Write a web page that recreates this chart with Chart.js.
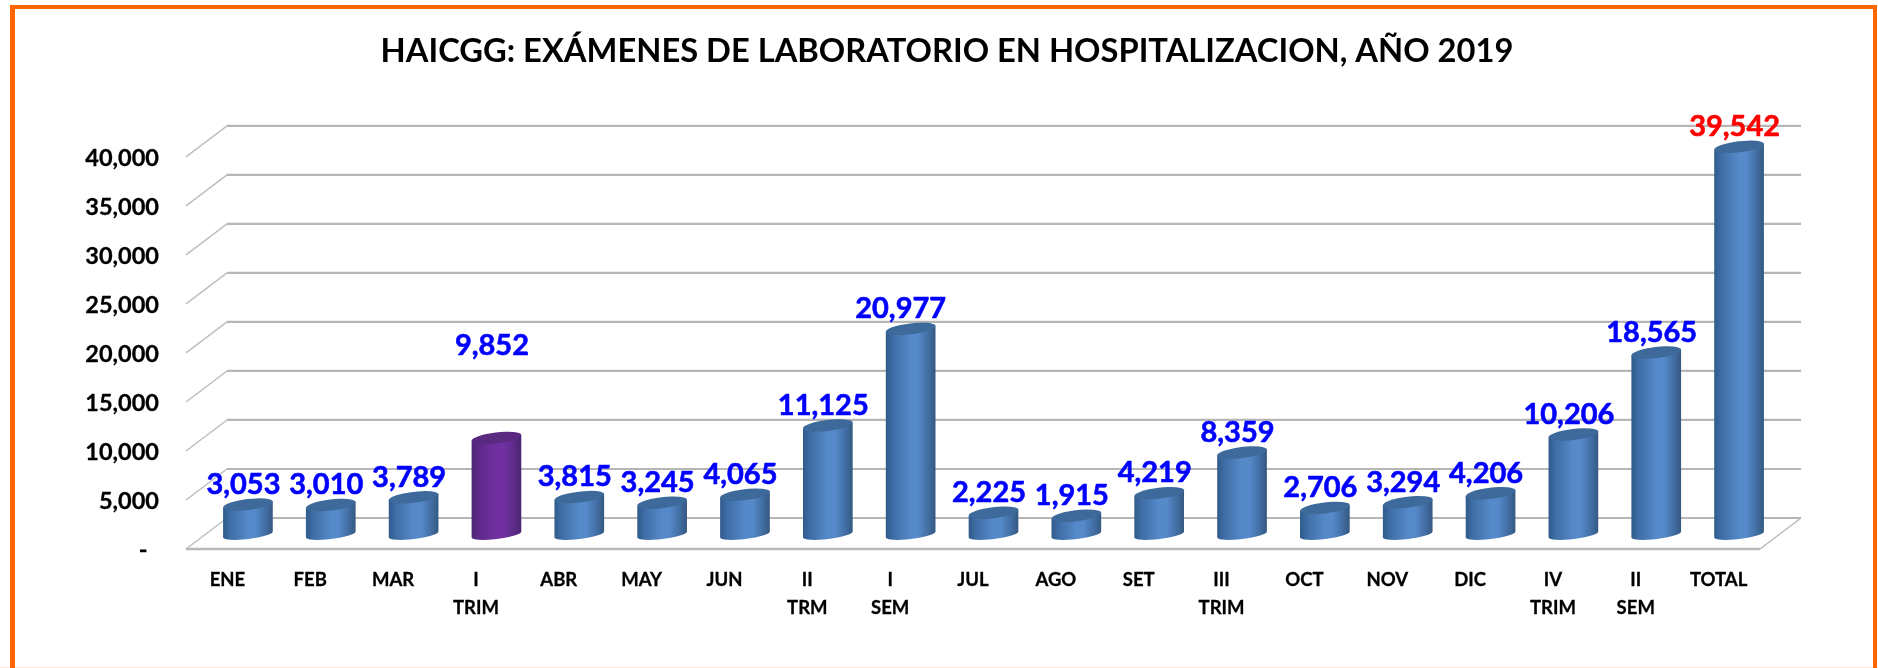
<!DOCTYPE html>
<html>
<head>
<meta charset="utf-8">
<title>HAICGG</title>
<script src="https://cdn.jsdelivr.net/npm/chart.js@4"></script>
<style>
    html, body { margin: 0; padding: 0; background: #fff; overflow: hidden; }
    canvas { display: block; }
</style>
</head>
<body>
<canvas id="plotCanvas" width="1878" height="668"></canvas>
<script>
var titleText = 'HAICGG: EXÁMENES DE LABORATORIO EN HOSPITALIZACION, AÑO 2019';
var categories = ['ENE', 'FEB', 'MAR', ['I', 'TRIM'], 'ABR', 'MAY', 'JUN', ['II', 'TRM'], ['I', 'SEM'],
    'JUL', 'AGO', 'SET', ['III', 'TRIM'], 'OCT', 'NOV', 'DIC', ['IV', 'TRIM'], ['II', 'SEM'], 'TOTAL'];
var examValues = [3053, 3010, 3789, 9852, 3815, 3245, 4065, 11125, 20977,
    2225, 1915, 4219, 8359, 2706, 3294, 4206, 10206, 18565, 39542];
var yTickLabels = ['-  ', '5,000', '10,000', '15,000', '20,000', '25,000', '30,000', '35,000', '40,000'];

// chart drawing constants
var fontName = 'Lato, "Open Sans", sans-serif';
var wallDX = 41, wallDY = -31;     // back wall offset from the front plane
var barDX = 20.5, barDY = -14.5;   // cylinders stand half way into the floor
var capTilt = -0.12, capRy = 5.5, footRy = 4.5;
var purpleIndex = 3, semIndex = 8, redIndex = 18;

var blueShades = { stops: ['#2f5a8a', '#3f6ea6', '#5589c9', '#5589c9', '#3f6a9e', '#34587f'], cap: '#3d6a9a' };
var purpleShades = { stops: ['#4f2677', '#5e2a8a', '#7030a0', '#7030a0', '#5a2a85', '#4a2470'], cap: '#5a2a80' };
var gradientStops = [0, 0.15, 0.5, 0.65, 0.88, 1];

function shadesFor(index) {
    return index === purpleIndex ? purpleShades : blueShades;
}

// orange frame round the picture
var framePlugin = {
    id: 'frame',
    beforeDraw: function (chart) {
        var ctx = chart.ctx;
        ctx.save();
        ctx.fillStyle = '#fff';
        ctx.fillRect(0, 0, chart.width, chart.height);
        ctx.fillStyle = '#fde6dc';
        ctx.fillRect(0, 667, 1878, 1);
        ctx.fillStyle = '#ff6600';
        ctx.fillRect(10, 5, 5, 663);
        ctx.fillRect(10, 5, 1867, 4);
        ctx.fillRect(1873, 5, 4, 663);
        ctx.restore();
    }
};

// floor, wall gridlines and the oblique side lines
var wallPlugin = {
    id: 'wall',
    beforeDatasetsDraw: function (chart) {
        var ctx = chart.ctx;
        var area = chart.chartArea;
        var yScale = chart.scales.y;
        ctx.save();
        yScale.ticks.forEach(function (tick) {
            var py = yScale.getPixelForValue(tick.value);
            ctx.strokeStyle = '#bdbdbd';
            ctx.lineWidth = 1.4;
            ctx.beginPath();
            ctx.moveTo(area.left, py);
            ctx.lineTo(area.left + wallDX, py + wallDY);
            ctx.stroke();
            ctx.strokeStyle = '#b6b6b6';
            ctx.lineWidth = 2.2;
            ctx.beginPath();
            ctx.moveTo(area.left + wallDX, py + wallDY);
            ctx.lineTo(area.right + wallDX, py + wallDY);
            ctx.stroke();
        });
        ctx.strokeStyle = '#b8b8b8';
        ctx.lineWidth = 2.6;
        ctx.beginPath();
        ctx.moveTo(area.left, area.bottom);
        ctx.lineTo(area.right, area.bottom);
        ctx.stroke();
        ctx.lineWidth = 1.4;
        ctx.beginPath();
        ctx.moveTo(area.right, area.bottom);
        ctx.lineTo(area.right + wallDX, area.bottom + wallDY);
        ctx.stroke();
        ctx.restore();
    }
};

// bars are painted as cylinders from the positions the bar controller worked out
var cylinderPlugin = {
    id: 'cylinder',
    beforeDatasetDraw: function (chart, args) {
        var ctx = chart.ctx;
        args.meta.data.forEach(function (bar, i) {
            var cx = bar.x + barDX;
            var top = bar.y + barDY;
            var bottom = bar.base + barDY;
            var rx = bar.width / 2;
            var shades = shadesFor(i);
            var dx = rx * Math.cos(capTilt);
            var dy = rx * Math.sin(capTilt);

            var grad = ctx.createLinearGradient(cx - rx, 0, cx + rx, 0);
            gradientStops.forEach(function (stop, s) {
                grad.addColorStop(stop, shades.stops[s]);
            });

            ctx.save();
            ctx.fillStyle = grad;
            ctx.beginPath();
            ctx.moveTo(cx - dx, top - dy);
            ctx.lineTo(cx - dx, bottom - dy);
            ctx.ellipse(cx, bottom, rx, footRy, capTilt, Math.PI, 0, true);
            ctx.lineTo(cx + dx, top + dy);
            ctx.closePath();
            ctx.fill();

            ctx.fillStyle = shades.cap;
            ctx.beginPath();
            ctx.ellipse(cx, top, rx, capRy, capTilt, 0, Math.PI * 2);
            ctx.fill();
            ctx.restore();
        });
        return false;
    }
};

// value labels above the cylinders, 9,852 sits far above its bar in the original
var valueLabelPlugin = {
    id: 'valueLabels',
    afterDatasetsDraw: function (chart) {
        var ctx = chart.ctx;
        var meta = chart.getDatasetMeta(0);
        ctx.save();
        ctx.font = 'bold 29px ' + fontName;
        ctx.textAlign = 'center';
        ctx.textBaseline = 'middle';
        ctx.lineWidth = 0.6;
        ctx.lineJoin = 'round';
        meta.data.forEach(function (bar, i) {
            var lift = i === purpleIndex ? 92 : 20;
            var shift = i === semIndex ? -10 : -4.5;
            var text = examValues[i].toLocaleString('en-US');
            var px = bar.x + barDX + shift;
            var py = bar.y + barDY - lift;
            ctx.fillStyle = i === redIndex ? '#ff0000' : '#0000ff';
            ctx.strokeStyle = ctx.fillStyle;
            ctx.fillText(text, px, py);
            ctx.strokeText(text, px, py);
        });
        ctx.restore();
    }
};

var canvas = document.getElementById('plotCanvas');
var ctx = canvas.getContext('2d');

new Chart(ctx, {
    type: 'bar',
    data: {
        labels: categories,
        datasets: [{
            label: 'Exámenes',
            data: examValues,
            backgroundColor: examValues.map(function (v, i) { return shadesFor(i).stops[2]; }),
            borderWidth: 0,
            categoryPercentage: 1,
            barPercentage: 0.604
        }]
    },
    options: {
        responsive: false,
        animation: false,
        layout: { padding: { left: 16, right: 0, top: 0, bottom: 0 } },
        plugins: {
            legend: { display: false },
            tooltip: { enabled: false },
            title: {
                display: true,
                text: titleText,
                color: '#000',
                font: { family: fontName, size: 32.7, weight: 'bold', lineHeight: 1.2 },
                padding: { top: 32, bottom: 85.6 }
            }
        },
        scales: {
            x: {
                grid: { display: false },
                border: { display: false },
                afterFit: function (scale) { scale.height = 119; },
                ticks: {
                    color: '#000',
                    padding: 9,
                    maxRotation: 0,
                    autoSkip: false,
                    textStrokeColor: '#000',
                    textStrokeWidth: 0.3,
                    font: { family: fontName, size: 18.5, weight: 'bold', lineHeight: 1.5 }
                }
            },
            y: {
                min: 0,
                max: 40000,
                grid: { display: false },
                border: { display: false },
                afterFit: function (scale) { scale.width = 170; },
                ticks: {
                    stepSize: 5000,
                    color: '#000',
                    padding: 19,
                    labelOffset: 1.5,
                    textStrokeColor: '#000',
                    textStrokeWidth: 0.3,
                    font: { family: fontName, size: 23.5, weight: 'bold' },
                    callback: function (value, index) { return yTickLabels[index]; }
                }
            },
            // empty axis only keeps the margin right of the floor
            spacer: {
                position: 'right',
                grid: { display: false },
                border: { display: false },
                ticks: { display: false },
                afterFit: function (scale) { scale.width = 118; }
            }
        }
    },
    plugins: [framePlugin, wallPlugin, cylinderPlugin, valueLabelPlugin]
});
</script>
</body>
</html>
